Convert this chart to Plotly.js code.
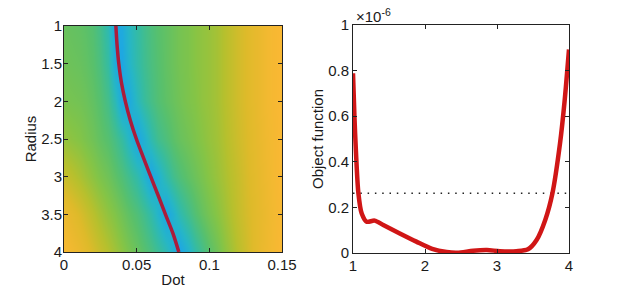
<!DOCTYPE html>
<html>
<head>
<meta charset="utf-8">
<script src="https://cdn.plot.ly/plotly-3.0.1.min.js"></script>
<style>
  html, body { margin: 0; padding: 0; background: #fff; }
  #chart { width: 617px; height: 298px; }
</style>
</head>
<body>
<div id="chart"></div>
<script>
// ---------- Left panel: heat map (Dot vs Radius) ----------
const dotGrid = [0,0.005,0.01,0.015,0.02,0.025,0.03,0.035,0.04,0.045,0.05,0.055,0.06,0.065,0.07,0.075,
                 0.08,0.085,0.09,0.095,0.1,0.105,0.11,0.115,0.12,0.125,0.13,0.135,0.14,0.145,0.15];
const radiusGrid = [1, 1.5, 2, 2.5, 3, 3.5, 4];
const zRow1   = [0.50,0.49,0.48,0.46,0.43,0.37,0.27,0.10,0.14,0.23,0.30,0.36,0.41,0.45,0.48,0.51,0.54,0.56,0.59,0.61,0.63,0.66,0.70,0.74,0.78,0.82,0.86,0.90,0.94,0.97,0.99];
const zRow1_5 = [0.52,0.51,0.50,0.48,0.45,0.40,0.31,0.14,0.11,0.21,0.29,0.35,0.40,0.44,0.48,0.51,0.54,0.56,0.59,0.61,0.63,0.66,0.70,0.74,0.78,0.82,0.86,0.90,0.94,0.97,0.99];
const zRow2   = [0.55,0.54,0.53,0.51,0.48,0.44,0.37,0.26,0.11,0.13,0.24,0.32,0.38,0.43,0.47,0.50,0.53,0.56,0.58,0.61,0.63,0.66,0.70,0.74,0.78,0.82,0.86,0.90,0.94,0.97,0.99];
const zRow2_5 = [0.62,0.60,0.58,0.55,0.52,0.48,0.44,0.38,0.31,0.21,0.10,0.18,0.28,0.36,0.41,0.46,0.50,0.53,0.56,0.59,0.62,0.65,0.69,0.73,0.77,0.81,0.85,0.89,0.93,0.96,0.99];
const zRow3   = [0.75,0.72,0.68,0.64,0.60,0.56,0.52,0.47,0.42,0.36,0.29,0.20,0.10,0.18,0.28,0.36,0.42,0.47,0.51,0.55,0.59,0.63,0.67,0.71,0.75,0.80,0.84,0.88,0.92,0.96,0.99];
const zRow3_5 = [0.90,0.86,0.81,0.76,0.71,0.66,0.61,0.57,0.52,0.47,0.42,0.36,0.29,0.20,0.10,0.18,0.28,0.36,0.43,0.49,0.54,0.59,0.64,0.69,0.74,0.79,0.83,0.87,0.91,0.95,0.98];
const zRow4   = [0.97,0.94,0.90,0.85,0.80,0.75,0.70,0.65,0.60,0.55,0.50,0.45,0.40,0.34,0.27,0.17,0.10,0.19,0.29,0.37,0.45,0.52,0.59,0.65,0.71,0.77,0.83,0.88,0.92,0.96,0.99];

// optimum path (red line on the heat map)
const pathRadius = [1, 1.25, 1.5, 1.75, 2, 2.25, 2.5, 2.75, 3, 3.25, 3.5, 3.75, 4];
const pathDot    = [0.0357,0.0365,0.0377,0.0395,0.0422,0.0456,0.0498,0.0547,0.0597,0.0648,0.0698,0.0749,0.0790];

// ---------- Right panel: object function (x 1e-6) ----------
const objRadius = [1.00,1.02,1.04,1.075,1.12,1.19,1.30,1.42,1.65,1.88,2.10,2.30,2.45,2.67,2.86,3.04,3.27,3.43,3.55,3.67,3.77,3.875,3.94,4.00];
const objValue  = [0.788,0.598,0.45,0.262,0.174,0.137,0.142,0.123,0.086,0.050,0.018,0.004,0.001,0.010,0.013,0.008,0.008,0.016,0.057,0.145,0.262,0.48,0.67,0.893];
const thresholdX = [1, 4];
const thresholdY = [0.262, 0.262];

const xTicksLeft  = [0, 0.05, 0.1, 0.15];
const xLabelsLeft = ['0', '0.05', '0.1', '0.15'];
const yTicksLeft  = [1, 1.5, 2, 2.5, 3, 3.5, 4];
const yLabelsLeft = ['1', '1.5', '2', '2.5', '3', '3.5', '4'];
const xTicksRight = [1, 2, 3, 4];
const yTicksRight = [0, 0.2, 0.4, 0.6, 0.8, 1];
const yLabelsRight = ['0', '0.2', '0.4', '0.6', '0.8', '1'];

const zMatrix = [zRow1, zRow1_5, zRow2, zRow2_5, zRow3, zRow3_5, zRow4];

const W = 617, H = 298;
const FONT = 'Liberation Sans, Arial, Helvetica, sans-serif';

const colorscale = [
  [0.00, 'rgb(25,140,235)'],
  [0.12, 'rgb(30,168,225)'],
  [0.22, 'rgb(38,182,198)'],
  [0.32, 'rgb(55,188,158)'],
  [0.45, 'rgb(88,192,108)'],
  [0.58, 'rgb(132,196,70)'],
  [0.70, 'rgb(182,192,45)'],
  [0.82, 'rgb(222,186,42)'],
  [1.00, 'rgb(252,184,52)']
];

const traces = [
  {
    type: 'heatmap', x: dotGrid, y: radiusGrid, z: zMatrix,
    colorscale: colorscale, zmin: 0, zmax: 1, zsmooth: 'best',
    showscale: false, xaxis: 'x', yaxis: 'y', hoverinfo: 'skip'
  },
  {
    type: 'scatter', mode: 'lines', x: pathDot, y: pathRadius,
    line: { color: 'rgb(172,28,58)', width: 3.5, shape: 'spline' },
    xaxis: 'x', yaxis: 'y', showlegend: false
  },
  {
    type: 'scatter', mode: 'lines', x: thresholdX, y: thresholdY,
    line: { color: '#222', width: 1.5, dash: '1.5px,5.8px' },
    xaxis: 'x2', yaxis: 'y2', showlegend: false
  },
  {
    type: 'scatter', mode: 'lines', x: objRadius, y: objValue,
    line: { color: 'rgb(208,22,22)', width: 4.5, shape: 'spline', smoothing: 0.8 },
    xaxis: 'x2', yaxis: 'y2', showlegend: false
  }
];

const axisCommon = {
  showline: true, linecolor: '#222', linewidth: 1, mirror: 'ticks',
  ticks: 'inside', ticklen: 4, tickcolor: '#222', tickwidth: 1,
  showgrid: false, zeroline: false,
  tickfont: { family: FONT, size: 15, color: '#1a1a1a' }
};

const layout = {
  width: W, height: H,
  margin: { l: 0, r: 0, t: 0, b: 0 },
  paper_bgcolor: '#fff', plot_bgcolor: '#fff',
  showlegend: false,
  font: { family: FONT, size: 15, color: '#1a1a1a' },
  xaxis: Object.assign({}, axisCommon, {
    domain: [64 / W, 282 / W], range: [0, 0.15], anchor: 'y',
    tickmode: 'array', tickvals: xTicksLeft, ticktext: xLabelsLeft,
    ticklabelstandoff: -1,
    title: { text: 'Dot', font: { family: FONT, size: 15 }, standoff: 2 }
  }),
  yaxis: Object.assign({}, axisCommon, {
    domain: [1 - 252 / H, 1 - 26 / H], range: [4, 1], anchor: 'x',
    tickmode: 'array', tickvals: yTicksLeft, ticktext: yLabelsLeft,
    ticklabelstandoff: -2,
    title: { text: 'Radius', font: { family: FONT, size: 15 }, standoff: 0 }
  }),
  xaxis2: Object.assign({}, axisCommon, {
    domain: [353 / W, 569 / W], range: [1, 4], anchor: 'y2',
    tickmode: 'array', tickvals: xTicksRight, ticktext: xTicksRight.map(String),
    ticklabelstandoff: -1
  }),
  yaxis2: Object.assign({}, axisCommon, {
    domain: [1 - 253 / H, 1 - 25 / H], range: [0, 1], anchor: 'x2',
    tickmode: 'array', tickvals: yTicksRight, ticktext: yLabelsRight,
    title: { text: 'Object function', font: { family: FONT, size: 15 }, standoff: 0 }
  }),
  annotations: [
    {
      xref: 'paper', yref: 'paper', x: 354 / W, y: 1 - 27 / H,
      xanchor: 'left', yanchor: 'bottom', showarrow: false,
      text: '\u00d710<sup>-6</sup>', font: { family: FONT, size: 15, color: '#1a1a1a' }
    }
  ]
};

Plotly.newPlot('chart', traces, layout, { staticPlot: true, displayModeBar: false });
</script>
</body>
</html>
